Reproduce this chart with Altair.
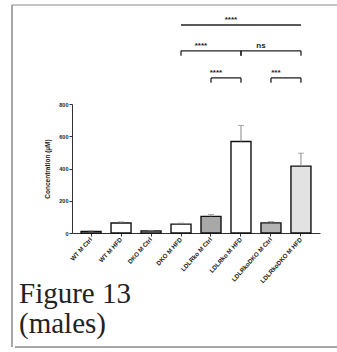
import altair as alt
import pandas as pd

# ---- data ----
groups = ["WT M Ctrl", "WT M HFD", "DKO M Ctrl", "DKO M HFD",
          "LDLRko M Ctrl", "LDLRko M HFD", "LDLRkoDKO M Ctrl", "LDLRkoDKO M HFD"]
means = [10, 62, 12, 55, 103, 567, 63, 415]
errors = [3, 7, 4, 6, 12, 100, 8, 80]
y_ticks = [0, 200, 400, 600, 800]

# significance brackets (from group, to group, height in µM, label, end ticks)
br_from = ["DKO M HFD", "DKO M HFD", "LDLRko M HFD", "LDLRko M Ctrl", "LDLRkoDKO M Ctrl"]
br_to = ["LDLRkoDKO M HFD", "LDLRko M HFD", "LDLRkoDKO M HFD", "LDLRko M HFD", "LDLRkoDKO M HFD"]
br_y = [1290, 1130, 1130, 962, 962]
br_label = ["****", "****", "ns", "****", "***"]
br_ticks = [0, 1, 1, 1, 1]

caption = ["Figure 13", "(males)"]

bar_fills = ["#ffffff", "#ffffff", "#ffffff", "#ffffff",
             "#a8a8a8", "#ffffff", "#b4b4b4", "#e2e2e2"]

df = pd.DataFrame({"group": groups, "mean": means, "err": errors})
df["top"] = df["mean"] + df["err"]

br = pd.DataFrame({"g1": br_from, "g2": br_to, "y": br_y,
                   "label": br_label, "ticks": br_ticks})

W, H = 248, 129
L, T = 72, 104

xscale = alt.Scale(domain=groups, paddingInner=0.33, paddingOuter=0.3)
x_enc = alt.X("group:N", sort=groups, scale=xscale,
              axis=alt.Axis(title=None, labelAngle=-48, labelFontSize=6.2,
                            labelFontWeight="bold", labelFont="Liberation Sans",
                            labelColor="#222", labelPadding=2, tickSize=3,
                            labelOverlap=False,
                            tickColor="#333", domainColor="#333", domainWidth=1))
yscale = alt.Scale(domain=[0, 800], nice=False)
y_axis = alt.Axis(values=y_ticks, title="Concentration (µM)",
                  titleFontSize=6.5, titleFont="Liberation Sans",
                  titleFontWeight="bold", titleColor="#222", titlePadding=8,
                  labelFontSize=5.5, labelFontWeight="bold",
                  labelFont="Liberation Sans", labelColor="#222",
                  labelOverlap=False, labelFlush=False,
                  labelPadding=1, tickSize=3, tickColor="#333",
                  domainColor="#333", domainWidth=1, grid=False)

bars = alt.Chart(df).mark_bar(stroke="#111", strokeWidth=1.4, size=20).encode(
    x=x_enc,
    y=alt.Y("mean:Q", scale=yscale, axis=y_axis),
    fill=alt.Fill("group:N", scale=alt.Scale(domain=groups, range=bar_fills), legend=None),
)

err_rule = alt.Chart(df).mark_rule(color="#888", strokeWidth=1).encode(
    x=alt.X("group:N", sort=groups), y=alt.Y("mean:Q", axis=y_axis), y2="top:Q")
err_cap = alt.Chart(df).mark_tick(color="#888", size=6, thickness=1).encode(
    x=alt.X("group:N", sort=groups), y=alt.Y("top:Q", axis=y_axis))

br_line = alt.Chart(br).mark_rule(color="#222", strokeWidth=1.3).encode(
    x=alt.X("g1:N", sort=groups), x2="g2:N", y=alt.Y("y:Q", axis=y_axis))
br_tick_data = alt.Chart(br).transform_filter("datum.ticks == 1").transform_calculate(
    yb="datum.y - 30")
br_t1 = br_tick_data.mark_rule(color="#222", strokeWidth=1.3).encode(
    x=alt.X("g1:N", sort=groups), y=alt.Y("y:Q", axis=y_axis), y2="yb:Q")
br_t2 = br_tick_data.mark_rule(color="#222", strokeWidth=1.3).encode(
    x=alt.X("g2:N", sort=groups), y=alt.Y("y:Q", axis=y_axis), y2="yb:Q")

grp_js = str(groups).replace("'", '"')
# label centred over the bracket: half the category distance times the 30 px step
br_text = alt.Chart(br).transform_calculate(
    i1="indexof(%s, datum.g1)" % grp_js,
    i2="indexof(%s, datum.g2)" % grp_js,
).transform_calculate(
    half="(datum.i2 - datum.i1) * 15"
).mark_text(fontSize=8, fontWeight="bold", font="Liberation Sans", color="#222",
            baseline="bottom", dy=-1).encode(
    x=alt.X("g1:N", sort=groups), y=alt.Y("y:Q", axis=y_axis), text="label:N",
    xOffset=alt.XOffset("half:Q", scale=None))

one = alt.Data(values=[{}])
frame_col = "#8a8a8a"
frame = [
    alt.Chart(one).mark_rule(color=frame_col, strokeWidth=1.2).encode(
        x=alt.value(12 - L), x2=alt.value(337 - L), y=alt.value(5 - T)),
    alt.Chart(one).mark_rule(color=frame_col, strokeWidth=1.5).encode(
        x=alt.value(12 - L), y=alt.value(5 - T), y2=alt.value(347 - T)),
    alt.Chart(one).mark_rule(color=frame_col, strokeWidth=1.5).encode(
        x=alt.value(15 - L), x2=alt.value(337 - L), y=alt.value(347 - T)),
]

cap1 = alt.Chart(one).mark_text(font="Liberation Serif", fontSize=29, align="left",
                                baseline="alphabetic", color="#222").encode(
    x=alt.value(19 - L), y=alt.value(303 - T), text=alt.value(caption[0]))
cap2 = alt.Chart(one).mark_text(font="Liberation Serif", fontSize=29, align="left",
                                baseline="alphabetic", color="#222").encode(
    x=alt.value(19 - L), y=alt.value(333 - T), text=alt.value(caption[1]))

chart = alt.layer(bars, err_rule, err_cap, br_line, br_t1, br_t2, br_text,
                  *frame, cap1, cap2).properties(
    width=W, height=H,
    autosize=alt.AutoSizeParams(type="none"),
    padding={"left": L, "top": T, "right": 337 - L - W, "bottom": 352 - T - H},
    background="white",
).configure_view(stroke=None).configure_axis(labelOverlap=False)

chart.save("out.html", embed_options={"renderer": "svg", "actions": False})
